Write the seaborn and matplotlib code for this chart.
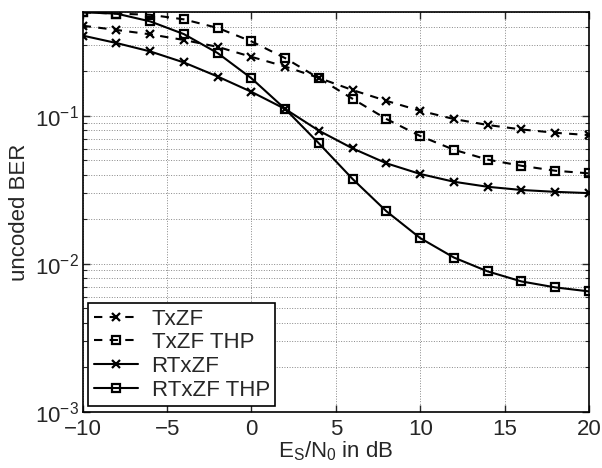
import numpy as np
import pandas as pd
import matplotlib
matplotlib.use("Agg")
import matplotlib.pyplot as plt
import seaborn as sns

# SNR grid in dB
snr_db = [-10, -8, -6, -4, -2, 0, 2, 4, 6, 8, 10, 12, 14, 16, 18, 20]

# uncoded BER
ber_txzf = [0.406, 0.38, 0.355, 0.325, 0.292, 0.25, 0.215, 0.18,
            0.149, 0.126, 0.108, 0.095, 0.0866, 0.0808, 0.0767, 0.074]
ber_txzf_thp = [0.5, 0.49, 0.481, 0.448, 0.392, 0.318, 0.245, 0.179,
                0.13, 0.095, 0.0729, 0.0589, 0.0505, 0.0459, 0.0425, 0.0408]
ber_rtxzf = [0.348, 0.31, 0.272, 0.229, 0.184, 0.145, 0.111, 0.0792,
             0.0601, 0.0477, 0.0404, 0.0358, 0.0331, 0.0315, 0.0306, 0.030]
ber_rtxzf_thp = [0.5, 0.49, 0.434, 0.356, 0.265, 0.179, 0.111, 0.065,
                 0.0373, 0.0226, 0.0149, 0.011, 0.00887, 0.00759, 0.00692, 0.0065]

labels = ["TxZF", "TxZF THP", "RTxZF", "RTxZF THP"]


def main():
    sns.set_style("ticks")
    plt.rcParams["font.family"] = ["Liberation Sans", "DejaVu Sans"]
    plt.rcParams["mathtext.default"] = "regular"

    fig = plt.figure(figsize=(6.02, 4.68), dpi=100)
    ax = fig.add_axes([0.1374, 0.1203, 0.841, 0.8534])

    series = [ber_txzf, ber_txzf_thp, ber_rtxzf, ber_rtxzf_thp]
    styles = [("x", (0, (4, 3.5)), 9), ("s", (0, (4, 3.5)), 10),
              ("x", "-", 9), ("s", "-", 10)]
    for lab, ber, (mk, ls, ms) in zip(labels, series, styles):
        df = pd.DataFrame({"snr": snr_db, "ber": ber})
        sns.lineplot(data=df, x="snr", y="ber", ax=ax, color="k",
                     linestyle=ls, linewidth=1.5, marker=mk, markersize=ms,
                     markerfacecolor="none", markeredgecolor="k",
                     markeredgewidth=1.8, label=lab)

    ax.set_yscale("log")
    ax.set_xlim(-10, 20)
    ax.set_ylim(1e-3, 0.5)
    ax.set_xticks([-10, -5, 0, 5, 10, 15, 20])

    ax.grid(True, which="major", linestyle=":", color="#888888", linewidth=0.7)
    ax.grid(True, which="minor", axis="y", linestyle=":", color="#888888", linewidth=0.7)

    ax.tick_params(which="both", direction="in", top=True, right=True,
                   labelsize=16, pad=3)
    ax.tick_params(axis="x", pad=5)
    ax.tick_params(which="major", length=5, width=1)
    ax.tick_params(which="minor", length=3, width=0.8)
    for s in ax.spines.values():
        s.set_linewidth(1.2)
        s.set_color("k")

    ax.set_xlabel(r"$\mathregular{E_S/N_0}$ in dB", fontsize=16, labelpad=0)
    ax.set_ylabel("uncoded BER", fontsize=16, labelpad=3)

    handles, labs = ax.get_legend_handles_labels()
    for h in handles:
        h.set_markersize(6)
        h.set_markeredgewidth(1.6)
    leg = ax.legend(handles, labs, loc="lower left", fontsize=16,
                    frameon=True, fancybox=False, edgecolor="k",
                    borderaxespad=0.25, handlelength=2.0, handletextpad=0.6,
                    labelspacing=0.12, borderpad=0.25)
    leg.get_frame().set_linewidth(1.2)
    leg.get_frame().set_alpha(1)

    fig.savefig("out.png", dpi=100)
    plt.close(fig)


if __name__ == "__main__":
    main()
